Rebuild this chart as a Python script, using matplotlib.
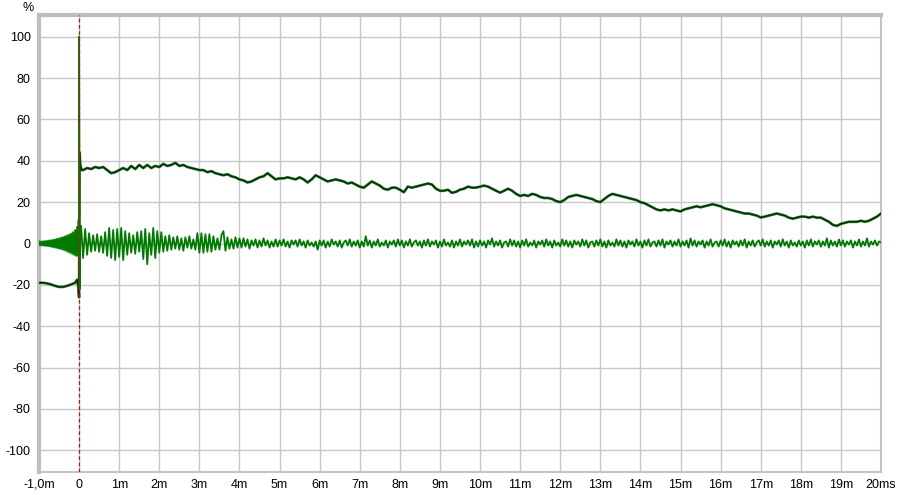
import numpy as np
import matplotlib
matplotlib.use("Agg")
import matplotlib.pyplot as plt

# ---------------- data ----------------
# step response (dark trace): lead-in and the jump at t = 0
step_t_lead = [-1.0, -0.9, -0.8, -0.7, -0.6, -0.5, -0.4, -0.3, -0.2, -0.1,
               -0.05, -0.02, 0.0, 0.012, 0.03, 0.06]
step_v_lead = [-19.0, -19.0, -19.3, -19.8, -20.5, -21.0, -21.0, -20.5, -19.8, -19.0,
               -17.5, -21.0, -26.0, 44.0, 38.0, 35.5]
# step response, every 0.1 ms from 0.1 to 20.0 ms (one row per ms)
step_v_body = [
    35.5, 36.5, 36.0, 37.0, 36.5, 37.0, 35.5, 34.0, 34.5, 35.5,
    36.5, 35.5, 37.5, 36.0, 38.0, 36.5, 38.0, 36.5, 37.5, 37.0,
    38.5, 37.5, 38.0, 39.0, 37.5, 38.0, 37.0, 36.5, 36.0, 35.5,
    35.5, 34.5, 35.0, 34.0, 33.5, 33.0, 33.5, 32.5, 32.0, 31.0,
    30.5, 29.5, 30.0, 31.0, 32.0, 32.5, 34.0, 32.5, 31.0, 31.5,
    31.5, 32.0, 31.5, 31.0, 32.0, 31.0, 29.5, 31.0, 33.0, 32.0,
    31.0, 30.0, 30.5, 31.0, 30.5, 30.0, 29.0, 29.5, 28.5, 27.5,
    27.0, 28.5, 30.0, 29.0, 28.0, 26.5, 26.0, 27.0, 27.0, 26.0,
    24.8, 27.5, 27.0, 27.5, 28.0, 28.5, 29.0, 28.5, 26.5, 25.5,
    25.5, 26.0, 24.5, 25.0, 26.0, 26.5, 27.5, 27.0, 27.0, 27.5,
    28.0, 27.5, 26.5, 25.5, 24.6, 25.5, 26.5, 25.5, 24.0, 23.0,
    23.5, 23.0, 24.0, 23.5, 22.5, 22.0, 22.0, 21.5, 20.5, 20.0,
    21.0, 22.5, 23.0, 23.5, 23.0, 22.5, 22.0, 21.5, 20.5, 20.0,
    21.5, 23.0, 24.0, 23.5, 23.0, 22.5, 22.0, 21.5, 21.0, 20.0,
    19.5, 18.5, 17.5, 16.5, 16.0, 16.5, 16.0, 16.5, 16.0, 15.5,
    16.5, 17.0, 17.5, 18.0, 17.5, 18.0, 18.5, 19.0, 18.5, 18.0,
    17.0, 16.5, 16.0, 15.5, 15.0, 14.5, 14.5, 14.0, 13.5, 12.6,
    13.0, 13.5, 14.0, 14.5, 14.0, 13.5, 12.5, 12.0, 12.5, 13.0,
    13.0, 12.5, 13.0, 12.5, 12.5, 11.5, 10.5, 9.0, 8.5, 9.5,
    10.0, 10.5, 10.5, 10.5, 11.0, 10.5, 11.0, 12.0, 13.0, 14.5,
]

# impulse response (green trace): every 0.025 ms before t = 0
imp_v_pre = [
    1.0, -0.9, 1.0, -1.0, 1.1, -1.1, 1.2, -1.2, 1.3, -1.3,
    1.5, -1.5, 1.6, -1.7, 1.8, -1.9, 2.0, -2.1, 2.3, -2.4,
    2.5, -2.6, 2.8, -2.9, 3.1, -3.2, 3.5, -3.6, 3.9, -4.1,
    4.3, -4.5, 4.8, -5.0, 5.5, -5.5, 6.5, -6.0, 8.0, -6.0,
]
# the peak around t = 0
imp_t_peak = [-0.012, -0.004, 0.0, 0.015, 0.03]
imp_v_peak = [11.5, -5.0, 100.0, -22.0, 8.0]
# every 0.05 ms from 0.05 to 20.0 ms (one row per ms)
imp_v_post = [
    8.5, -7.0, 7.0, -5.5, 5.0, -4.0, 4.0, -3.5, 4.5, -4.0, 3.5, -4.5, 5.5, -6.0, 7.5, -7.0, 6.5, -8.0, 7.0, -6.5,
    7.5, -8.0, 6.0, -5.5, 5.0, -4.5, 4.0, -5.0, 5.5, -4.0, 6.0, -7.5, 7.0, -10.0, 5.0, -5.5, 7.5, -7.0, 6.0, -4.5,
    5.5, -4.0, 3.5, -3.5, 4.0, -3.0, 3.0, -2.5, 3.5, -3.0, 2.5, -3.5, 3.0, -2.0, 3.5, -2.5, 2.0, -3.0, 5.0, -4.5,
    5.0, -4.5, 4.5, -4.0, 4.5, -4.0, 3.5, -3.0, 2.5, -3.0, 4.0, 6.0, -3.5, 3.0, -2.5, 2.0, -2.5, 3.0, -2.0, 2.5,
    -2.0, 2.5, -1.5, 2.0, -2.5, 1.5, -1.0, 2.0, -2.0, 1.5, -1.5, 2.5, -1.0, 1.5, -2.0, 1.0, -1.5, 2.0, -1.5, 1.5,
    -1.0, 2.0, -1.5, 1.0, -2.0, 1.5, -0.5, 1.5, -1.5, 2.0, -1.0, 1.0, -2.0, 1.5, -1.0, 0.5, -1.5, 1.0, -3.0, 1.5,
    -1.0, 1.5, -2.0, 1.0, -1.5, 2.0, -0.5, 1.0, -1.5, 1.5, -2.0, 0.5, 1.5, -1.0, 2.0, -1.5, 1.0, -1.0, 1.5, -2.0,
    1.0, -1.5, 3.5, -1.0, 1.5, -2.0, 1.0, -1.0, 2.0, -1.5, 0.5, -1.0, 1.5, -2.0, 1.0, -0.5, 1.5, -1.5, 2.0, -1.0,
    1.5, -2.0, 1.0, -1.0, 2.0, -1.5, 0.5, 1.5, -1.0, 1.0, -2.0, 1.5, -1.0, 2.0, -1.5, 1.0, -0.5, 1.5, -2.0, 1.0,
    -1.5, 2.0, -1.0, 0.5, -1.5, 1.5, -2.0, 1.0, -1.0, 2.0, -1.5, 1.0, -0.5, 1.5, -1.0, 2.0, -2.0, 1.0, -1.5, 1.5,
    -1.0, 1.0, -2.0, 1.5, -0.5, 2.5, -1.5, 1.0, -1.0, 1.5, -2.0, 0.5, 1.0, -1.5, 2.0, -1.0, 1.5, -1.5, 1.0, -2.0,
    1.5, -1.0, 2.0, -1.5, 0.5, -1.0, 1.5, -2.0, 1.0, -0.5, 1.5, -1.5, 2.0, -1.0, 1.0, -2.0, 1.5, -1.0, 0.5, -1.5,
    2.0, -1.0, 1.5, -1.5, 1.0, -2.0, 1.5, -0.5, 1.0, -1.5, 2.0, -1.0, 1.5, -2.0, 0.5, 1.0, -1.5, 1.5, -1.0, 2.0,
    -1.5, 1.0, -2.0, 1.5, -1.0, 0.5, -1.5, 2.0, -1.0, 1.5, -1.5, 1.0, -2.0, 1.5, -0.5, 1.0, -1.5, 2.0, -1.0, 1.0,
    -2.0, 1.5, -1.0, 2.0, -1.5, 0.5, 1.0, -1.5, 1.5, -1.0, 2.0, -2.0, 1.0, -0.5, 1.5, -1.5, 1.0, -1.0, 2.0, -1.5,
    1.0, -1.0, 1.5, -2.0, 2.5, -1.0, 1.5, -1.5, 1.0, -0.5, 1.5, -2.0, 1.0, -1.0, 2.0, -1.5, 0.5, 1.0, -1.5, 1.5,
    -1.0, 2.0, -1.5, 1.0, -2.0, 1.5, -0.5, 1.0, -1.5, 1.5, -1.0, 2.0, -2.0, 1.0, -1.0, 1.5, -1.5, 0.5, 1.5, -1.0,
    2.0, -1.5, 1.0, -1.0, 1.5, -2.0, 1.0, -0.5, 1.5, -1.5, 2.0, -1.0, 1.0, -2.0, 1.5, -1.0, 0.5, -1.5, 1.5, -1.0,
    1.0, -2.0, 1.5, -1.0, 2.0, -1.5, 1.0, -0.5, 1.5, -1.5, 1.0, -1.0, 2.5, -2.0, 1.5, -1.0, 1.0, -1.5, 2.0, -1.0,
    1.5, -1.5, 1.0, -0.5, 1.5, -2.0, 1.0, -1.0, 2.0, -1.5, 1.0, -1.0, 2.5, -1.5, 1.0, -0.5, 1.5, -1.0, 1.0, 0.5,
]

x_ticks = list(range(-1, 21))
x_tick_labels = ["-1,0m", "0"] + [f"{i}m" for i in range(1, 20)] + ["20ms"]
y_ticks = list(range(-100, 101, 20))
y_tick_labels = [str(v) for v in y_ticks]

# sample times
step_t_body = np.round(np.arange(1, len(step_v_body) + 1) * 0.1, 3)
step_t = np.concatenate([step_t_lead, step_t_body])
step_v = np.concatenate([step_v_lead, step_v_body])

imp_t_pre = np.round(-1.0 + np.arange(len(imp_v_pre)) * 0.025, 4)
imp_t_post = np.round(np.arange(1, len(imp_v_post) + 1) * 0.05, 3)
imp_t = np.concatenate([imp_t_pre, imp_t_peak, imp_t_post])
imp_v = np.concatenate([imp_v_pre, imp_v_peak, imp_v_post])

# ---------------- figure ----------------
plt.rcParams['font.family'] = ['Liberation Sans', 'DejaVu Sans']
fig = plt.figure(figsize=(9.0, 4.95), dpi=100)
fig.patch.set_facecolor("white")
ax = fig.add_axes([39 / 900, 1 - 472 / 495, (881 - 39) / 900, (472 - 15) / 495])
ax.set_facecolor("white")

ax.set_xlim(-1, 20)
ax.set_ylim(-110.5, 110.5)
ax.set_xticks(x_ticks)
ax.set_xticklabels(x_tick_labels)
ax.set_yticks(y_ticks)
ax.set_yticklabels(y_tick_labels)
ax.tick_params(axis="both", length=0, labelsize=9, colors="#000000")
ax.tick_params(axis="x", pad=5)
ax.tick_params(axis="y", pad=6)
ax.grid(True, color="#c8c8c8", linewidth=1.0)
ax.set_axisbelow(True)

for side in ("left", "top"):
    ax.spines[side].set_color("#bdbdbd")
    ax.spines[side].set_linewidth(3.0)
for side in ("right", "bottom"):
    ax.spines[side].set_color("#c4c4c4")
    ax.spines[side].set_linewidth(1.5)

# step response: green halo with dark core
ax.plot(step_t, step_v, color="#3a8f3a", linewidth=2.0, solid_joinstyle="round", zorder=3)
ax.plot(step_t, step_v, color="#0a300a", linewidth=1.2, solid_joinstyle="round", zorder=4)
# impulse response
ax.plot(imp_t, imp_v, color="#007a00", linewidth=1.3, solid_joinstyle="round", zorder=5)
# zero marker
ax.axvline(0, color="#b81818", linewidth=0.9, linestyle=(0, (3, 2)), zorder=6)

fig.text(28 / 900, 1 - 8 / 495, "%", ha="center", va="center", fontsize=9)

fig.savefig("out.png", dpi=100, facecolor="white")
